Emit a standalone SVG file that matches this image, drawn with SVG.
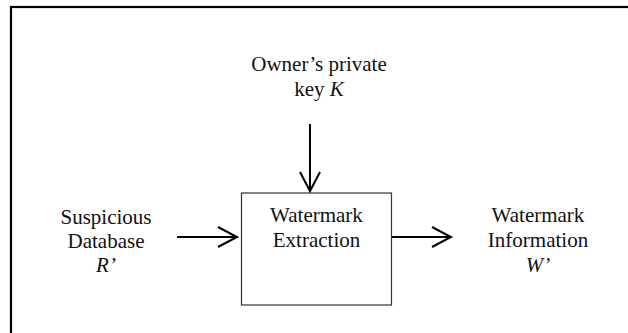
<svg xmlns="http://www.w3.org/2000/svg" width="628" height="333" viewBox="0 0 628 333">
<style>
text{font-family:"Liberation Serif","Times New Roman",serif;font-size:21px;fill:#111;text-anchor:middle}
.conn{stroke:#000;stroke-width:2;fill:none}
.head{stroke:#000;stroke-width:2;fill:none;stroke-linejoin:miter}
</style>
<rect x="11" y="7" width="640" height="360" fill="#fff" stroke="#000" stroke-width="2.2"/>
<g id="key">
<text x="319" y="71">Owner’s private</text>
<text x="319" y="96">key <tspan font-style="italic">K</tspan></text>
</g>
<g id="suspicious-db">
<text x="106" y="224">Suspicious</text>
<text x="106" y="248">Database</text>
<text x="106" y="272"><tspan font-style="italic">R’</tspan></text>
</g>
<g id="extraction">
<rect x="241.5" y="193" width="150" height="112" fill="#fff" stroke="#333" stroke-width="1.2"/>
<text x="316.5" y="222">Watermark</text>
<text x="316.5" y="247">Extraction</text>
</g>
<g id="info">
<text x="538" y="222">Watermark</text>
<text x="538" y="247">Information</text>
<text x="538" y="272"><tspan font-style="italic">W’</tspan></text>
</g>
<g id="connectors">
<line class="conn" x1="310" y1="124" x2="310" y2="192"/>
<polyline class="head" points="300,172 310,191 320,172"/>
<line class="conn" x1="177" y1="237" x2="238" y2="237"/>
<polyline class="head" points="218,227 237,237 218,247"/>
<line class="conn" x1="392" y1="237" x2="451" y2="237"/>
<polyline class="head" points="432,227 451,237 432,247"/>
</g>
</svg>
